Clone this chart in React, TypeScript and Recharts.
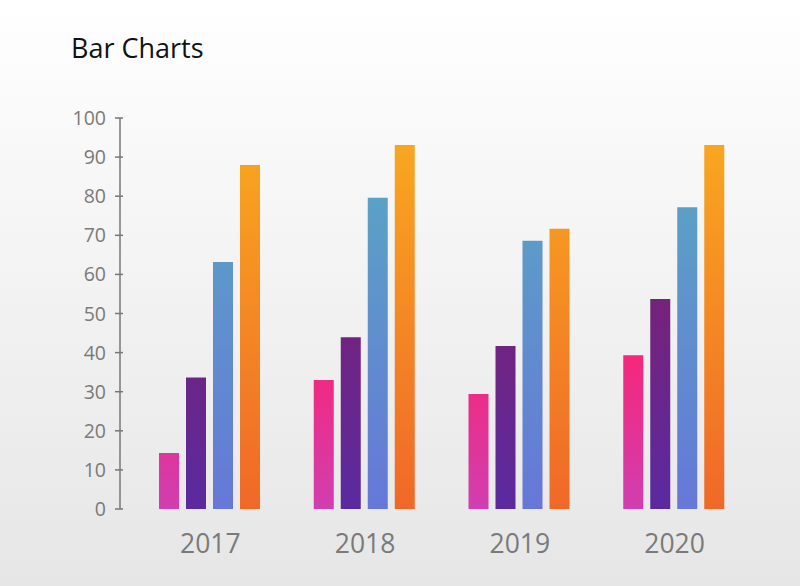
import React from 'react';
import { BarChart, Bar, XAxis, YAxis } from 'recharts';

const years = ['2017', '2018', '2019', '2020'];
const pinkValues = [14.3, 33, 29.4, 39.3];
const purpleValues = [33.6, 43.9, 41.7, 53.7];
const blueValues = [63.2, 79.6, 68.6, 77.2];
const orangeValues = [88, 93.1, 71.7, 93.1];
const yTicks = [0, 10, 20, 30, 40, 50, 60, 70, 80, 90, 100];

const data = years.map((year, i) => ({
  year,
  pink: pinkValues[i],
  purple: purpleValues[i],
  blue: blueValues[i],
  orange: orangeValues[i],
}));

const FONT = '"Open Sans", "Noto Sans", sans-serif';

const YTick = (props: any) => {
  const { x, y, payload } = props;
  return (
    <g>
      <line x1={x - 5} x2={x + 3} y1={y} y2={y} stroke="#777" strokeWidth={1.5} />
      <text x={x - 14} y={y} dy="0.36em" textAnchor="end" fill="#7a7a7a" fontSize={19.5} fontFamily={FONT}>
        {payload.value}
      </text>
    </g>
  );
};

const XTick = (props: any) => {
  const { x, y, payload } = props;
  return (
    <text x={x} y={y + 36} textAnchor="middle" fill="#7a7a7a" fontSize={26.5} fontFamily={FONT}>
      {payload.value}
    </text>
  );
};

export default function App() {
  return (
    <div
      style={{
        position: 'absolute',
        left: 0,
        top: 0,
        width: 800,
        height: 586,
        background: 'linear-gradient(to bottom, #ffffff 0%, #f7f7f7 30%, #e6e6e6 100%)',
        overflow: 'hidden',
      }}
    >
      <div
        style={{
          position: 'absolute',
          left: 71,
          top: 31,
          fontFamily: FONT,
          fontSize: 27,
          color: '#111',
          lineHeight: '34px',
          whiteSpace: 'nowrap',
        }}
      >
        Bar Charts
      </div>
      <div style={{ position: 'absolute', left: 0, top: 0 }}>
        <BarChart
          width={800}
          height={586}
          data={data}
          margin={{ top: 118, right: 48, left: 0, bottom: 37 }}
          barCategoryGap={26}
          barGap={7}
        >
          <defs>
            <linearGradient id="gPink" gradientUnits="userSpaceOnUse" x1="0" y1="509" x2="0" y2="355">
              <stop offset="0%" stopColor="#d13eb0" />
              <stop offset="100%" stopColor="#f5277a" />
            </linearGradient>
            <linearGradient id="gPurple" gradientUnits="userSpaceOnUse" x1="0" y1="509" x2="0" y2="299">
              <stop offset="0%" stopColor="#5a2aa0" />
              <stop offset="100%" stopColor="#76227a" />
            </linearGradient>
            <linearGradient id="gBlue" gradientUnits="userSpaceOnUse" x1="0" y1="509" x2="0" y2="198">
              <stop offset="0%" stopColor="#6677d8" />
              <stop offset="100%" stopColor="#5aa1c6" />
            </linearGradient>
            <linearGradient id="gOrange" gradientUnits="userSpaceOnUse" x1="0" y1="509" x2="0" y2="145">
              <stop offset="0%" stopColor="#f06828" />
              <stop offset="100%" stopColor="#f8a620" />
            </linearGradient>
          </defs>
          <XAxis
            dataKey="year"
            axisLine={false}
            tickLine={false}
            height={40}
            padding={{ left: 13, right: 0 }}
            tick={<XTick />}
            interval={0}
          />
          <YAxis
            domain={[0, 100]}
            ticks={yTicks}
            width={120}
            tickSize={0}
            tickMargin={0}
            tickLine={false}
            axisLine={{ stroke: '#777', strokeWidth: 1.5 }}
            tick={<YTick />}
            interval={0}
          />
          <Bar dataKey="pink" fill="url(#gPink)" isAnimationActive={false} />
          <Bar dataKey="purple" fill="url(#gPurple)" isAnimationActive={false} />
          <Bar dataKey="blue" fill="url(#gBlue)" isAnimationActive={false} />
          <Bar dataKey="orange" fill="url(#gOrange)" isAnimationActive={false} />
        </BarChart>
      </div>
    </div>
  );
}
